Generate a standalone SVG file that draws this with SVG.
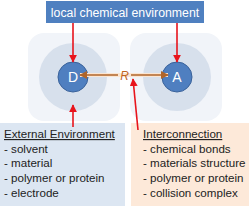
<svg xmlns="http://www.w3.org/2000/svg" width="249" height="206" viewBox="0 0 249 206">
<defs>
<style>
.t{font-family:"Liberation Sans",Arial,sans-serif;font-size:11.6px;fill:#222}
.red{stroke:#e8141c;stroke-width:1.6;fill:none}
.halo{fill:#d7e0ec}
.node{fill:#4f7fc0;stroke:#3a629a;stroke-width:1}
.nl{font-family:"Liberation Sans",Arial,sans-serif;font-size:14px;fill:#fff;text-anchor:middle}
</style>
<marker id="rh" viewBox="0 0 10 10" refX="9" refY="5" markerWidth="5" markerHeight="5" orient="auto-start-reverse"><path d="M0,0 L10,5 L0,10 z" fill="#e8141c"/></marker>
<marker id="oh" viewBox="0 0 10 10" refX="9" refY="5" markerWidth="5" markerHeight="5" orient="auto-start-reverse"><path d="M0,0 L10,5 L0,10 z" fill="#b0652a"/></marker>
</defs>
<rect width="249" height="206" fill="#fff"/>
<g id="background">
<rect x="28" y="33" width="92" height="88" rx="16" fill="#f1f4f9"/>
<rect x="130" y="33" width="92" height="88" rx="16" fill="#f1f4f9"/>
<circle class="halo" cx="73" cy="77" r="34"/>
<circle class="halo" cx="177" cy="77" r="34"/>
</g>
<g id="top-box">
<rect x="46" y="1" width="158" height="22" fill="#4f80c0"/>
<text x="125" y="16.5" font-family="'Liberation Sans',Arial,sans-serif" font-size="12.3" fill="#fff" text-anchor="middle">local chemical environment</text>
</g>
<g id="node-D">
<circle class="node" cx="73" cy="77" r="15"/>
<text class="nl" x="73" y="82">D</text>
</g>
<g id="node-A">
<circle class="node" cx="177" cy="77" r="15"/>
<text class="nl" x="177" y="82">A</text>
</g>
<g id="external-box">
<rect x="0" y="123" width="125" height="83" fill="#dce6f2"/>
<text class="t" x="4" y="138" text-decoration="underline">External Environment</text>
<text class="t" x="4" y="153">- solvent</text>
<text class="t" x="4" y="167">- material</text>
<text class="t" x="4" y="182">- polymer or protein</text>
<text class="t" x="4" y="197">- electrode</text>
</g>
<g id="interconnection-box">
<rect x="131" y="123" width="118" height="83" fill="#fde9d9"/>
<text class="t" x="143" y="138" text-decoration="underline">Interconnection</text>
<text class="t" x="143" y="153">- chemical bonds</text>
<text class="t" x="143" y="167">- materials structure</text>
<text class="t" x="143" y="182">- polymer or protein</text>
<text class="t" x="143" y="197">- collision complex</text>
</g>
<g id="connectors">
<line x1="80" y1="75" x2="168" y2="75" stroke="#fbe6d3" stroke-width="4"/>
<line x1="80" y1="75" x2="118" y2="75" stroke="#b0652a" stroke-width="1.6" marker-start="url(#oh)"/>
<line x1="131" y1="75" x2="168" y2="75" stroke="#b0652a" stroke-width="1.6" marker-end="url(#oh)"/>
<text x="124.5" y="80" font-family="'Liberation Sans',Arial,sans-serif" font-size="12" font-style="italic" fill="#c0651f" text-anchor="middle">R</text>
<line class="red" x1="73" y1="23" x2="73" y2="62" marker-end="url(#rh)"/>
<line class="red" x1="177" y1="23" x2="177" y2="62" marker-end="url(#rh)"/>
<line class="red" x1="73" y1="127" x2="73" y2="105" marker-end="url(#rh)"/>
<line class="red" x1="138" y1="130" x2="133" y2="79" marker-end="url(#rh)"/>
</g>
</svg>
